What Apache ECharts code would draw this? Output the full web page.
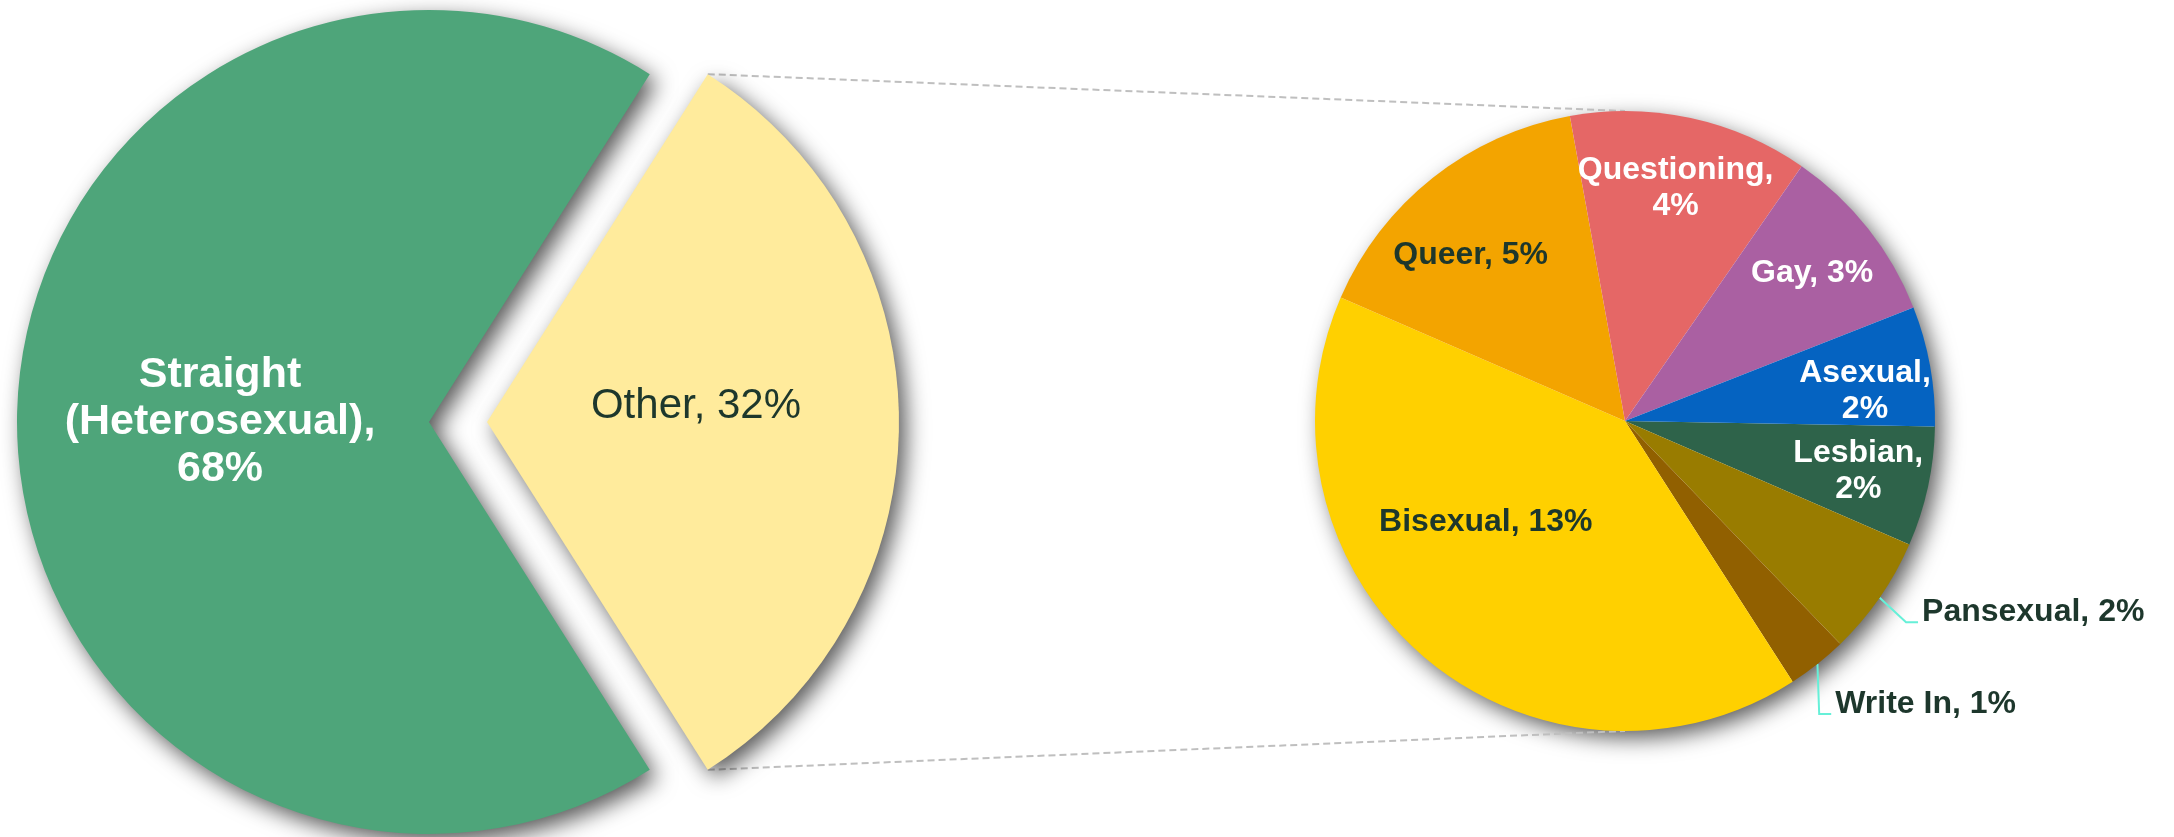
<!DOCTYPE html>
<html>
<head>
<meta charset="utf-8">
<title>Sexual orientation</title>
<script src="https://cdn.jsdelivr.net/npm/echarts@6/dist/echarts.min.js"></script>
<style>
  html, body { margin: 0; padding: 0; background: #fff; }
  #chart { width: 2174px; height: 837px; }
</style>
</head>
<body>
<div id="chart"></div>
<script>
// first pie
const mainNames = ['Other', 'Straight (Heterosexual)'];
const mainValues = [32, 68];
const mainColors = ['#FFEB9C', '#4EA57A'];

// breakdown of "Other", clockwise from 3 o'clock
const otherNames = ['Lesbian', 'Pansexual', 'Write In', 'Bisexual', 'Queer', 'Questioning', 'Gay', 'Asexual'];
const otherValues = [2, 2, 1, 13, 5, 4, 3, 2];
const otherColors = ['#2E634A', '#997C00', '#916000', '#FFD000', '#F3A400', '#E56766', '#AA60A2', '#0563C1'];

const darkText = '#1D372C';
const whiteLabels = ['Questioning', 'Gay', 'Asexual', 'Lesbian', 'Straight (Heterosexual)'];
const wrapLabels = ['Questioning', 'Asexual', 'Lesbian'];

const left = { cx: 458, cy: 422, r: 412, gap: 29 };
const right = { cx: 1625, cy: 421, r: 310, start: -1 };

// label spots that Excel put off the mid angle
const labelSpots = {
  Bisexual: { r: 0.555, angle: 216 },
  Queer: { r: 0.73, angle: 133 },
  Asexual: { r: 0.78, angle: 7 }
};
const leaders = {
  Pansexual: { angle: -43, len: 36 },
  'Write In': { angle: -88, len: 50 }
};

const shadow = {
  shadowBlur: 22,
  shadowOffsetX: 7,
  shadowOffsetY: 8,
  shadowColor: 'rgba(0,0,0,0.65)'
};

function sum(list) {
  return list.reduce((a, b) => a + b, 0);
}

function rad(deg) {
  return deg * Math.PI / 180;
}

function midAngle(i) {
  const total = sum(otherValues);
  const before = sum(otherValues.slice(0, i));
  return right.start - (before + otherValues[i] / 2) / total * 360;
}

const mainTotal = sum(mainValues);
const halfOther = mainValues[0] / mainTotal * 360 / 2;

// shadow disc behind the second pie + connector lines from the tips of "Other"
function decorations() {
  const ox = left.cx + left.gap;
  const dx = left.r * Math.cos(rad(halfOther));
  const dy = left.r * Math.sin(rad(halfOther));
  const style = { stroke: '#BFBFBF', lineWidth: 2, lineDash: [7, 4] };
  return [
    {
      type: 'circle',
      z: 0,
      silent: true,
      shape: { cx: right.cx, cy: right.cy, r: right.r - 1 },
      style: Object.assign({ fill: '#ffffff' }, shadow)
    },
    { type: 'line', z: 1, shape: { x1: ox + dx, y1: left.cy - dy, x2: right.cx, y2: right.cy - right.r }, style: style },
    { type: 'line', z: 1, shape: { x1: ox + dx, y1: left.cy + dy, x2: right.cx, y2: right.cy + right.r }, style: style }
  ];
}

const mainData = mainNames.map((name, i) => ({
  name: name,
  value: mainValues[i],
  selected: true,
  itemStyle: { color: mainColors[i] },
  label: whiteLabels.includes(name)
    ? { color: '#fff', fontWeight: 'bold', fontSize: 43, lineHeight: 47 }
    : { color: darkText, fontWeight: 'normal', fontSize: 42, lineHeight: 46 }
}));

const otherData = otherNames.map((name, i) => {
  const item = {
    name: name,
    value: otherValues[i],
    itemStyle: { color: otherColors[i] },
    label: { color: whiteLabels.includes(name) ? '#fff' : darkText }
  };
  if (leaders[name]) {
    item.label.position = 'outside';
    item.labelLine = { show: true, lineStyle: { color: '#66F0D8', width: 2 } };
  }
  return item;
});

const chart = echarts.init(document.getElementById('chart'));

const option = {
  animation: false,
  backgroundColor: '#fff',
  graphic: decorations(),
  series: [
    {
      type: 'pie',
      center: [left.cx, left.cy],
      radius: left.r,
      startAngle: halfOther,
      clockwise: true,
      selectedMode: 'multiple',
      selectedOffset: left.gap,
      avoidLabelOverlap: false,
      itemStyle: Object.assign({ borderWidth: 0 }, shadow),
      emphasis: { disabled: true },
      select: { itemStyle: Object.assign({ borderWidth: 0 }, shadow) },
      label: {
        position: 'inside',
        fontFamily: 'Liberation Sans',
        formatter: function (p) {
          if (whiteLabels.includes(p.name)) {
            return p.name.replace(' (', '\n(') + ',\n' + p.value + '%';
          }
          return p.name + ', ' + p.value + '%';
        }
      },
      labelLayout: function (p) {
        if (mainNames[p.dataIndex] === 'Other') {
          return { dy: -16 };
        }
        return {};
      },
      data: mainData
    },
    {
      type: 'pie',
      z: 3,
      center: [right.cx, right.cy],
      radius: right.r,
      startAngle: right.start,
      clockwise: true,
      avoidLabelOverlap: false,
      emphasis: { disabled: true },
      itemStyle: { borderWidth: 0 },
      label: {
        position: 'inside',
        fontFamily: 'Liberation Sans',
        fontWeight: 'bold',
        fontSize: 32,
        lineHeight: 36,
        formatter: function (p) {
          const sep = wrapLabels.includes(p.name) ? ',\n' : ', ';
          return p.name + sep + p.value + '%';
        }
      },
      labelLine: { show: false },
      labelLayout: function (p) {
        const name = otherNames[p.dataIndex];
        const mid = rad(midAngle(p.dataIndex));
        if (leaders[name]) {
          const lead = leaders[name];
          const x0 = right.cx + right.r * Math.cos(mid);
          const y0 = right.cy - right.r * Math.sin(mid);
          const x1 = x0 + lead.len * Math.cos(rad(lead.angle));
          const y1 = y0 - lead.len * Math.sin(rad(lead.angle));
          const x2 = x1 + 12;
          return {
            x: x2 + 4,
            y: y1 - 10,
            align: 'left',
            verticalAlign: 'middle',
            labelLinePoints: [[x0, y0], [x1, y1], [x2, y1]]
          };
        }
        const spot = labelSpots[name] || { r: 0.77, angle: midAngle(p.dataIndex) };
        return {
          x: right.cx + spot.r * right.r * Math.cos(rad(spot.angle)),
          y: right.cy - spot.r * right.r * Math.sin(rad(spot.angle)),
          align: 'center',
          verticalAlign: 'middle'
        };
      },
      data: otherData
    }
  ]
};

chart.setOption(option);

window.addEventListener('resize', function () {
  chart.resize();
});
</script>
</body>
</html>
